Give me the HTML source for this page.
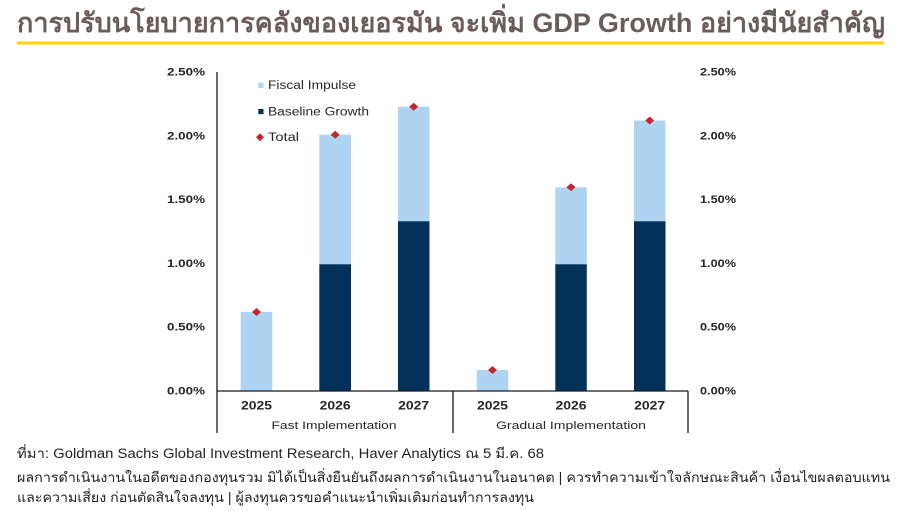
<!DOCTYPE html>
<html>
<head>
<meta charset="utf-8">
<style>
  html, body { margin:0; padding:0; background:#ffffff; }
  body { width:900px; height:511px; overflow:hidden; }
  svg { display:block; }
  .th { font-family: "Liberation Sans", "DejaVu Sans", "Noto Sans CJK SC", sans-serif; }
  .ax { font-family: "Liberation Sans", Arial, sans-serif; fill:#262626; }
</style>
</head>
<body>
<svg width="900" height="511" viewBox="0 0 900 511" xmlns="http://www.w3.org/2000/svg">
  <rect x="0" y="0" width="900" height="511" fill="#ffffff"/>

  <!-- Title -->
  <text class="th" x="17" y="32" font-size="27" font-weight="bold" fill="#6b5c5c" textLength="868" lengthAdjust="spacingAndGlyphs">การปรับนโยบายการคลังของเยอรมัน จะเพิ่ม GDP Growth อย่างมีนัยสำคัญ</text>
  <rect x="17" y="41.5" width="867" height="3" fill="#ffd500"/>

  <!-- Left tick labels -->
  <g class="ax" font-size="11" font-weight="bold" text-anchor="end">
    <text x="205" y="75.5" textLength="38" lengthAdjust="spacingAndGlyphs">2.50%</text>
    <text x="205" y="139.3" textLength="38" lengthAdjust="spacingAndGlyphs">2.00%</text>
    <text x="205" y="203.1" textLength="38" lengthAdjust="spacingAndGlyphs">1.50%</text>
    <text x="205" y="266.9" textLength="38" lengthAdjust="spacingAndGlyphs">1.00%</text>
    <text x="205" y="330.7" textLength="38" lengthAdjust="spacingAndGlyphs">0.50%</text>
    <text x="205" y="394.5" textLength="38" lengthAdjust="spacingAndGlyphs">0.00%</text>
  </g>
  <!-- Right tick labels -->
  <g class="ax" font-size="11" font-weight="bold">
    <text x="700" y="75.5" textLength="36" lengthAdjust="spacingAndGlyphs">2.50%</text>
    <text x="700" y="139.3" textLength="36" lengthAdjust="spacingAndGlyphs">2.00%</text>
    <text x="700" y="203.1" textLength="36" lengthAdjust="spacingAndGlyphs">1.50%</text>
    <text x="700" y="266.9" textLength="36" lengthAdjust="spacingAndGlyphs">1.00%</text>
    <text x="700" y="330.7" textLength="36" lengthAdjust="spacingAndGlyphs">0.50%</text>
    <text x="700" y="394.5" textLength="36" lengthAdjust="spacingAndGlyphs">0.00%</text>
  </g>

  <!-- Bars: light (fiscal) -->
  <g fill="#aed4f1">
    <rect x="240.7" y="312" width="31.6" height="79"/>
    <rect x="319.3" y="134.7" width="31.7" height="130"/>
    <rect x="398" y="106.7" width="31.5" height="115"/>
    <rect x="476.7" y="370" width="31.6" height="21"/>
    <rect x="555.3" y="187.3" width="31.5" height="77.5"/>
    <rect x="634" y="120.5" width="31.5" height="101"/>
  </g>
  <!-- Bars: dark (baseline) -->
  <g fill="#02325b">
    <rect x="319.3" y="264.3" width="31.7" height="126.7"/>
    <rect x="398" y="221.3" width="31.5" height="169.7"/>
    <rect x="555.3" y="264.3" width="31.5" height="126.7"/>
    <rect x="634" y="221.3" width="31.5" height="169.7"/>
  </g>

  <!-- Total diamonds -->
  <g fill="#c1272d">
    <polygon points="256.5,308 261,312 256.5,316 252,312"/>
    <polygon points="335.2,130.7 339.7,134.7 335.2,138.7 330.7,134.7"/>
    <polygon points="413.7,102.7 418.2,106.7 413.7,110.7 409.2,106.7"/>
    <polygon points="492.5,366 497,370 492.5,374 488,370"/>
    <polygon points="571,183.3 575.5,187.3 571,191.3 566.5,187.3"/>
    <polygon points="649.7,116.5 654.2,120.5 649.7,124.5 645.2,120.5"/>
  </g>

  <!-- Axes -->
  <g stroke="#1a1a1a" stroke-width="1.3" fill="none">
    <line x1="217" y1="72" x2="217" y2="433"/>
    <line x1="217" y1="391" x2="688" y2="391"/>
    <line x1="453" y1="391" x2="453" y2="433"/>
    <line x1="688" y1="391" x2="688" y2="433"/>
  </g>

  <!-- Category labels -->
  <g class="ax" font-size="11.5" font-weight="bold" text-anchor="middle">
    <text x="256.5" y="409.5" textLength="31" lengthAdjust="spacingAndGlyphs">2025</text>
    <text x="335.2" y="409.5" textLength="31" lengthAdjust="spacingAndGlyphs">2026</text>
    <text x="413.7" y="409.5" textLength="31" lengthAdjust="spacingAndGlyphs">2027</text>
    <text x="492.5" y="409.5" textLength="31" lengthAdjust="spacingAndGlyphs">2025</text>
    <text x="571" y="409.5" textLength="31" lengthAdjust="spacingAndGlyphs">2026</text>
    <text x="649.7" y="409.5" textLength="31" lengthAdjust="spacingAndGlyphs">2027</text>
  </g>
  <g class="ax" font-size="11" text-anchor="middle">
    <text x="334" y="429" textLength="125" lengthAdjust="spacingAndGlyphs">Fast Implementation</text>
    <text x="571" y="429" textLength="150" lengthAdjust="spacingAndGlyphs">Gradual Implementation</text>
  </g>

  <!-- Legend -->
  <rect x="258.3" y="82.7" width="5.2" height="5.2" fill="#aed4f1"/>
  <text class="ax" x="268" y="89" font-size="11.5" textLength="88" lengthAdjust="spacingAndGlyphs">Fiscal Impulse</text>
  <rect x="258.3" y="109" width="5.2" height="5.2" fill="#02325b"/>
  <text class="ax" x="268" y="115.3" font-size="11.5" textLength="101" lengthAdjust="spacingAndGlyphs">Baseline Growth</text>
  <polygon points="260,133.3 264,137.3 260,141.3 256,137.3" fill="#c1272d"/>
  <text class="ax" x="268" y="141" font-size="11.5" textLength="31" lengthAdjust="spacingAndGlyphs">Total</text>

  <!-- Footer -->
  <g class="th" fill="#222222" font-size="13.5">
    <text x="17" y="458" textLength="527" lengthAdjust="spacingAndGlyphs">ที่มา: Goldman Sachs Global Investment Research, Haver Analytics ณ 5 มี.ค. 68</text>
    <text x="17" y="482" textLength="873" lengthAdjust="spacingAndGlyphs">ผลการดำเนินงานในอดีตของกองทุนรวม มิได้เป็นสิ่งยืนยันถึงผลการดำเนินงานในอนาคต | ควรทำความเข้าใจลักษณะสินค้า เงื่อนไขผลตอบแทน</text>
    <text x="17" y="502" textLength="517" lengthAdjust="spacingAndGlyphs">และความเสี่ยง ก่อนตัดสินใจลงทุน |  ผู้ลงทุนควรขอคำแนะนำเพิ่มเติมก่อนทำการลงทุน</text>
  </g>
</svg>
</body>
</html>
